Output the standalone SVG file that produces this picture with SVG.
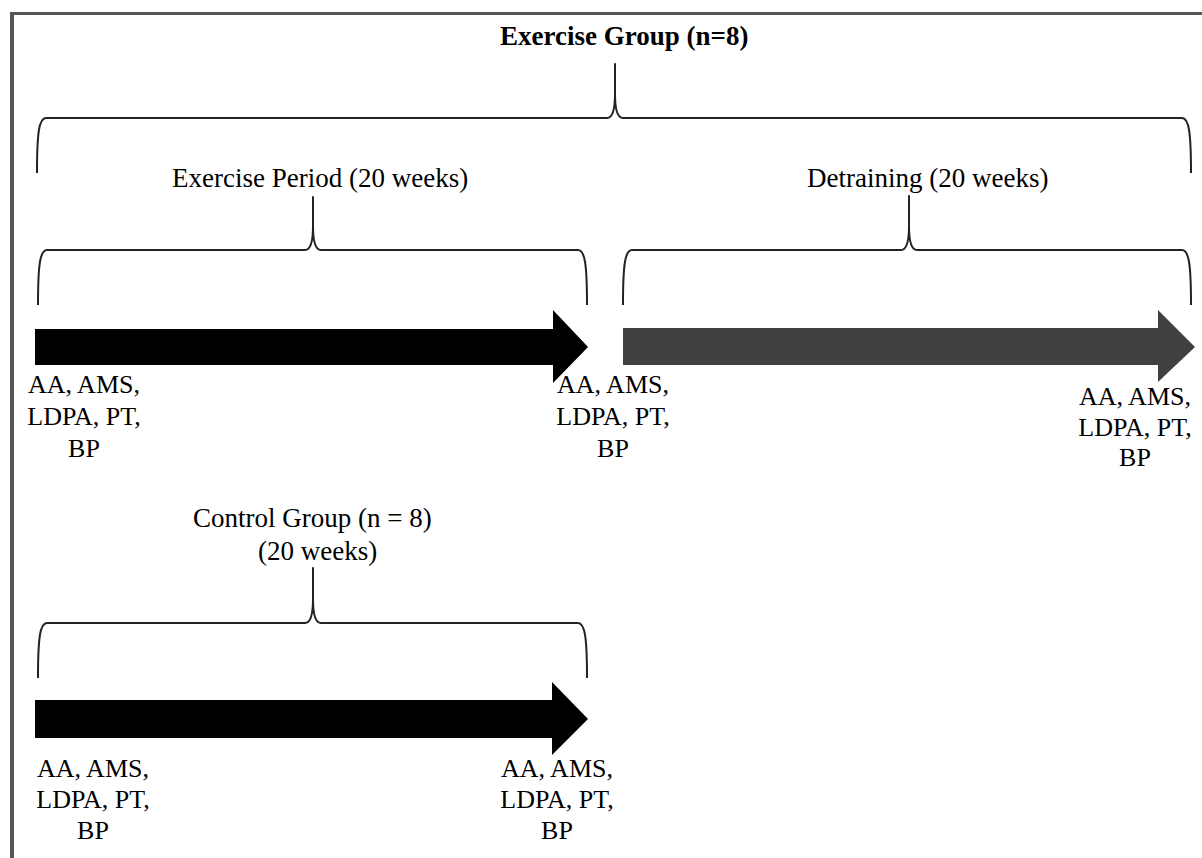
<svg xmlns="http://www.w3.org/2000/svg" width="1202" height="858" viewBox="0 0 1202 858">
<style>
.t{font-family:"Liberation Serif","Times New Roman",serif;font-size:27px;fill:#000}
.b{font-weight:bold}
.l{font-family:"Liberation Serif","Times New Roman",serif;font-size:26px;fill:#000;text-anchor:middle}
.br{fill:none;stroke:#222;stroke-width:2;stroke-linejoin:round}
</style>
<rect width="1202" height="858" fill="#fff"/>
<g id="frame">
<line x1="10" y1="13.5" x2="1202" y2="13.5" stroke="#555" stroke-width="3"/>
<line x1="12" y1="12" x2="12" y2="858" stroke="#555" stroke-width="4"/>
</g>
<g id="title"><text class="t b" x="500" y="45">Exercise Group (n=8)</text></g>
<g id="connectors">
<path class="br" d="M37,173 C37,133 39,118 46,118 L607,118 C612,118 615,110 615,94 L615,64 L615,94 C615,110 618,118 623,118 L1182,118 C1189,118 1191,133 1191,173"/>
<path class="br" d="M38,305 C38,265 40,250 47,250 L305,250 C310,250 313,242 313,226 L313,197 L313,226 C313,242 316,250 321,250 L578,250 C585,250 587,265 587,305"/>
<path class="br" d="M623,305 C623,265 625,250 632,250 L901,250 C906,250 909,242 909,226 L909,196 L909,226 C909,242 912,250 917,250 L1182,250 C1189,250 1191,265 1191,305"/>
<path class="br" d="M38,678 C38,638 40,623 47,623 L305,623 C310,623 313,615 313,599 L313,568 L313,599 C313,615 316,623 321,623 L578,623 C585,623 587,638 587,678"/>
</g>
<g id="exercise-period"><text class="t" x="172" y="187">Exercise Period (20 weeks)</text></g>
<g id="detraining"><text class="t" x="807" y="187">Detraining (20 weeks)</text></g>
<g id="arrow-exercise"><polygon points="35,329 553,329 553,310 588,347 553,383 553,365 35,365" fill="#000"/></g>
<g id="arrow-detraining"><polygon points="623,328 1158,328 1158,310 1195,347 1158,382 1158,365 623,365" fill="#404040"/></g>
<g id="control-group"><text class="t" x="193" y="527">Control Group (n = 8)</text><text class="t" x="258" y="560">(20 weeks)</text></g>
<g id="arrow-control"><polygon points="35,700 552,700 552,682 588,719 552,755 552,738 35,738" fill="#000"/></g>
<g id="m1"><text class="l" x="84" y="393">AA, AMS,</text><text class="l" x="84" y="425">LDPA, PT,</text><text class="l" x="84" y="457">BP</text></g>
<g id="m2"><text class="l" x="613" y="393">AA, AMS,</text><text class="l" x="613" y="425">LDPA, PT,</text><text class="l" x="613" y="457">BP</text></g>
<g id="m3"><text class="l" x="1135" y="405">AA, AMS,</text><text class="l" x="1135" y="436">LDPA, PT,</text><text class="l" x="1135" y="466">BP</text></g>
<g id="m4"><text class="l" x="93" y="777">AA, AMS,</text><text class="l" x="93" y="808">LDPA, PT,</text><text class="l" x="93" y="839">BP</text></g>
<g id="m5"><text class="l" x="557" y="777">AA, AMS,</text><text class="l" x="557" y="808">LDPA, PT,</text><text class="l" x="557" y="839">BP</text></g>
</svg>
